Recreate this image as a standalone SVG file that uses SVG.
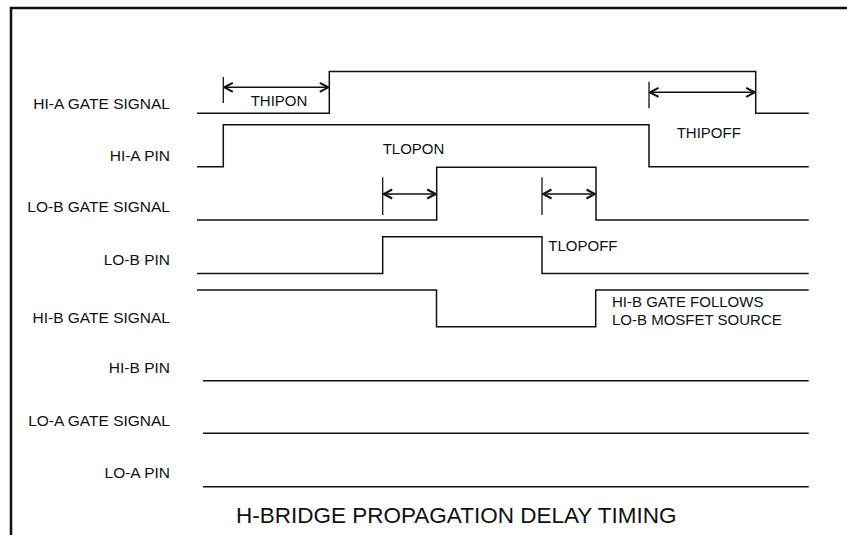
<svg xmlns="http://www.w3.org/2000/svg" width="847" height="535" viewBox="0 0 847 535">
<style>
  .frame { fill: none; stroke: #111; stroke-width: 2.5; }
  .wave { fill: none; stroke: #111; stroke-width: 1.5; }
  .tick { fill: none; stroke: #111; stroke-width: 1.3; }
  .dim { fill: none; stroke: #111; stroke-width: 1.4; marker-start: url(#ah); marker-end: url(#ah); }
  .lbl { font-family: "Liberation Sans", Arial, sans-serif; font-size: 15.5px; fill: #111; text-anchor: end; }
  .ann { font-family: "Liberation Sans", Arial, sans-serif; font-size: 15px; fill: #111; }
  .title { font-family: "Liberation Sans", Arial, sans-serif; font-size: 22.5px; fill: #111; }
</style>
<defs>
  <marker id="ah" viewBox="-11 -6 12 12" refX="0" refY="0" markerWidth="12" markerHeight="12" markerUnits="userSpaceOnUse" orient="auto-start-reverse">
    <path d="M-8.5,-4.5 L0,0 L-8.5,4.5" fill="none" stroke="#111" stroke-width="2"/>
  </marker>
</defs>
<rect width="847" height="535" fill="#fff"/>
<path class="frame" d="M11,535 V8 H847"/>

<g id="hi-a-gate">
  <text class="lbl" x="170" y="109.3">HI-A GATE SIGNAL</text>
  <path class="wave" d="M197,113.3 H329.3 V71.5 H755.7 V113.3 H808.7"/>
</g>
<g id="hi-a-pin">
  <text class="lbl" x="170" y="161">HI-A PIN</text>
  <path class="wave" d="M197,166.7 H223.3 V124.7 H649 V166.7 H808.7"/>
</g>
<g id="lo-b-gate">
  <text class="lbl" x="170" y="211.7">LO-B GATE SIGNAL</text>
  <path class="wave" d="M197,220 H436.7 V167.3 H596 V220 H808.7"/>
</g>
<g id="lo-b-pin">
  <text class="lbl" x="170" y="265">LO-B PIN</text>
  <path class="wave" d="M197,273.5 H382.7 V236.7 H542 V273.5 H808.7"/>
</g>
<g id="hi-b-gate">
  <text class="lbl" x="170" y="323.3">HI-B GATE SIGNAL</text>
  <path class="wave" d="M197,290 H436.5 V326.7 H595.7 V290 H808.7"/>
  <text class="ann" x="612" y="307.3">HI-B GATE FOLLOWS</text>
  <text class="ann" x="612" y="325">LO-B MOSFET SOURCE</text>
</g>
<g id="hi-b-pin">
  <text class="lbl" x="170" y="373.3">HI-B PIN</text>
  <path class="wave" d="M203,380.7 H808.7"/>
</g>
<g id="lo-a-gate">
  <text class="lbl" x="170" y="426">LO-A GATE SIGNAL</text>
  <path class="wave" d="M203,433.3 H808.7"/>
</g>
<g id="lo-a-pin">
  <text class="lbl" x="170" y="478.3">LO-A PIN</text>
  <path class="wave" d="M203,486.7 H808.7"/>
</g>

<g id="delays">
  <path class="tick" d="M223.3,77 V103"/>
  <path class="dim" d="M224.3,87.3 H328.3"/>
  <text class="ann" x="250.7" y="106">THIPON</text>

  <path class="tick" d="M649,81.7 V108.3"/>
  <path class="dim" d="M650,92.3 H754.7"/>
  <text class="ann" x="676.7" y="138.3">THIPOFF</text>

  <path class="tick" d="M382.7,177.3 V215"/>
  <path class="dim" d="M383.7,194 H435.7"/>
  <text class="ann" x="382.7" y="154">TLOPON</text>

  <path class="tick" d="M542,177.3 V215"/>
  <path class="dim" d="M543,194 H595"/>
  <text class="ann" x="548.3" y="250.7">TLOPOFF</text>
</g>

<text class="title" x="236" y="523.3">H-BRIDGE PROPAGATION DELAY TIMING</text>
</svg>
